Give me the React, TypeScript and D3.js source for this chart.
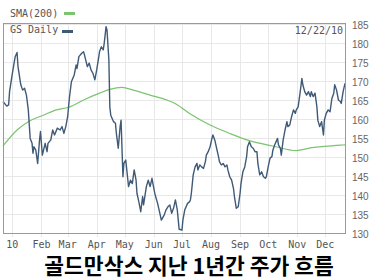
import React from "react";
import * as d3 from "d3";

const priceDates = [
  "2009-12-22","2009-12-26","2009-12-28","2009-12-29",
  "2010-01-01","2010-01-04","2010-01-06","2010-01-07","2010-01-10","2010-01-12","2010-01-14","2010-01-16","2010-01-18","2010-01-20","2010-01-22","2010-01-23","2010-01-24","2010-01-26","2010-01-28","2010-01-30","2010-01-31",
  "2010-02-02","2010-02-05","2010-02-07","2010-02-08","2010-02-11","2010-02-13","2010-02-15","2010-02-18","2010-02-21","2010-02-23","2010-02-25","2010-02-27",
  "2010-03-01","2010-03-03","2010-03-05","2010-03-08","2010-03-10","2010-03-11","2010-03-13","2010-03-16","2010-03-18","2010-03-19","2010-03-22","2010-03-24","2010-03-26","2010-03-28","2010-03-30",
  "2010-04-01","2010-04-03","2010-04-04","2010-04-06","2010-04-08","2010-04-09","2010-04-11","2010-04-12","2010-04-14","2010-04-15","2010-04-16","2010-04-19","2010-04-21","2010-04-22","2010-04-24","2010-04-26","2010-04-27","2010-04-29","2010-04-30",
  "2010-05-02","2010-05-05","2010-05-07","2010-05-09","2010-05-11","2010-05-13","2010-05-14","2010-05-16","2010-05-18","2010-05-20","2010-05-21","2010-05-24","2010-05-26","2010-05-28","2010-05-30","2010-05-31",
  "2010-06-02","2010-06-05","2010-06-07","2010-06-09","2010-06-12","2010-06-14","2010-06-16","2010-06-18","2010-06-20","2010-06-22","2010-06-24","2010-06-26","2010-06-28",
  "2010-07-01","2010-07-02","2010-07-04","2010-07-07","2010-07-09","2010-07-10","2010-07-11","2010-07-13","2010-07-15","2010-07-17","2010-07-18","2010-07-20","2010-07-22","2010-07-24","2010-07-26","2010-07-27","2010-07-29","2010-07-31",
  "2010-08-02","2010-08-03","2010-08-05","2010-08-07","2010-08-09","2010-08-10","2010-08-12","2010-08-14","2010-08-16","2010-08-18","2010-08-19","2010-08-21","2010-08-23","2010-08-25","2010-08-26","2010-08-28","2010-08-30",
  "2010-09-01","2010-09-02","2010-09-04","2010-09-06","2010-09-08","2010-09-09","2010-09-11","2010-09-13","2010-09-15","2010-09-17","2010-09-19","2010-09-20","2010-09-22","2010-09-24","2010-09-26","2010-09-28","2010-09-29",
  "2010-10-01","2010-10-03","2010-10-05","2010-10-06","2010-10-08","2010-10-11","2010-10-12","2010-10-14","2010-10-15","2010-10-17","2010-10-19","2010-10-21","2010-10-22","2010-10-24","2010-10-26","2010-10-28","2010-10-30","2010-10-31",
  "2010-11-02","2010-11-04","2010-11-06","2010-11-07","2010-11-09","2010-11-11","2010-11-13","2010-11-15","2010-11-16","2010-11-18","2010-11-20","2010-11-22","2010-11-23","2010-11-25","2010-11-27","2010-11-29","2010-11-30",
  "2010-12-02","2010-12-04","2010-12-06","2010-12-08","2010-12-10","2010-12-11","2010-12-13","2010-12-15","2010-12-17","2010-12-18","2010-12-20","2010-12-22",
];

const priceValues = [
  164.6,163.4,163.7,167.2,
  172,176.4,177.5,173.8,169,167.6,168.1,166.3,162.4,154.9,153.6,151,152.7,151.8,148.3,154.5,156.7,
  150.5,153.6,151.4,153.6,154.5,157.1,155.8,157.6,157.1,158,156.2,158,
  160.6,165.9,169.8,171.6,174.2,173.3,176.4,177.3,177.7,176.8,173.8,174.7,172.9,172,170.3,
  172.9,176,177.7,179,178.2,179.9,184.3,183.4,175.5,163.2,161,159.3,158.9,156.2,152.3,158,159.7,144.8,148.3,
  149.2,142.2,143.9,143,146.6,143.9,140.4,138.2,135.6,139.6,137.4,142.2,143.9,142.2,144.4,143,
  140.4,137.8,135.6,133.4,134.7,136.1,136.9,137.4,135.2,136.5,138.7,136.1,131,
  130.8,133.4,136.1,137.8,138.2,138.7,140.4,145.3,147.4,148.3,146.6,147.9,147.4,147,148.8,150.5,151.4,152.7,
  154.9,155.8,154.5,152.3,150.1,148.8,147.9,148.3,147.4,147.9,146.6,144.8,143.9,141.7,139.6,136.5,136.9,
  140.4,143,146.1,147.4,150.1,152.7,154,152.7,152.3,151.4,151.4,148.3,145.3,146.1,144.8,144.4,144.8,
  147.4,149.7,150.1,151.8,153.2,154.9,153.2,152.3,150.5,154.5,157.1,159.3,158,158.4,160.6,162.4,161.5,162.4,
  163.2,166.8,170.7,169,167.2,166.3,167.2,165.9,167.2,165.9,166.8,163.2,159.7,158,159.3,155.8,159.7,
  161.5,162.4,161.9,165.4,166.8,169,167.6,165,164.6,164.1,167.2,169.4,
];

const smaDates = [
  "2009-12-22","2010-01-06","2010-01-18","2010-02-03","2010-02-17","2010-03-02","2010-03-18","2010-04-04",
  "2010-04-15","2010-04-28","2010-05-10","2010-05-28","2010-06-15","2010-06-25","2010-07-10","2010-07-31",
  "2010-08-21","2010-09-11","2010-10-06","2010-10-31","2010-11-15","2010-12-17","2010-12-22",
];
const smaValues = [
  152.9,157.1,159.3,161,162.4,163.1,165,166.8,
  167.8,168.3,167.6,166.3,165,163.9,161.3,158.4,
  156.2,154.3,152.9,151.7,152.4,153.1,153.2,
];

const yTicks = [130, 135, 140, 145, 150, 155, 160, 165, 170, 175, 180, 185];
const monthTicks = [
  "2010-01-01","2010-02-01","2010-03-01","2010-04-01","2010-05-01","2010-06-01",
  "2010-07-01","2010-08-01","2010-09-01","2010-10-01","2010-11-01","2010-12-01",
];
const monthLabels = ["10","Feb","Mar","Apr","May","Jun","Jul","Aug","Sep","Oct","Nov","Dec"];

const legendSma = "SMA(200)";
const legendPrice = "GS Daily";
const dateStamp = "12/22/10";
const title = "골드만삭스 지난 1년간 주가 흐름";

const parse = d3.timeParse("%Y-%m-%d");

export default function App() {
  const W = 375, H = 280;
  const left = 3, right = 345, top = 24, bottom = 233;
  const x = d3.scaleTime()
    .domain([parse("2009-12-22") as Date, parse("2010-12-22") as Date])
    .range([left, right]);
  const y = d3.scaleLinear().domain([130, 185]).range([bottom, top]);

  const price = priceDates.map((d, i) => ({ d: parse(d) as Date, v: priceValues[i] }));
  const sma = smaDates.map((d, i) => ({ d: parse(d) as Date, v: smaValues[i] }));

  const line = d3.line<{ d: Date; v: number }>().x((p) => x(p.d)).y((p) => y(p.v));
  const smooth = d3.line<{ d: Date; v: number }>()
    .x((p) => x(p.d)).y((p) => y(p.v)).curve(d3.curveMonotoneX);

  const mono = "'DejaVu Sans Mono', monospace";

  return (
    <svg width={W} height={H} style={{ position: "absolute", left: 0, top: 0, background: "#fff" }}>
      <rect x={0} y={0} width={W} height={H} fill="#fff" />
      {yTicks.map((t) => (
        <line key={"h" + t} x1={left} x2={right} y1={Math.round(y(t)) + 0.5} y2={Math.round(y(t)) + 0.5}
          stroke="#e8e8e8" strokeWidth={1} />
      ))}
      {monthTicks.map((m) => {
        const xx = Math.round(x(parse(m) as Date)) + 0.5;
        return <line key={"v" + m} x1={xx} x2={xx} y1={top} y2={bottom + 4} stroke="#e8e8e8" strokeWidth={1} />;
      })}
      <path d={smooth(sma) || ""} fill="none" stroke="#7bc46f" strokeWidth={1.2} />
      <path d={line(price) || ""} fill="none" stroke="#3f5a77" strokeWidth={1.4} strokeLinejoin="round" />
      <rect x={left + 0.5} y={top - 0.5} width={right - left} height={bottom - top + 1}
        fill="none" stroke="#9a9a9a" strokeWidth={1} />
      {yTicks.map((t) => (
        <text key={"yl" + t} x={352} y={y(t) + 4.5} fontSize={10}
          fontFamily="'Liberation Sans', Arial, sans-serif" fill="#666">{t}</text>
      ))}
      {monthTicks.map((m, i) => (
        <text key={"ml" + m} x={x(parse(m) as Date)} y={248} fontSize={10} fontFamily={mono}
          fill="#555" textAnchor="middle">{monthLabels[i]}</text>
      ))}
      <text x={10} y={17} fontSize={10} fontFamily={mono} fill="#555">{legendSma}</text>
      <rect x={64} y={12} width={11} height={3} fill="#7bc46f" />
      <text x={10} y={33} fontSize={10} fontFamily={mono} fill="#555">{legendPrice}</text>
      <rect x={62} y={30} width={11} height={3} fill="#3f5a77" />
      <text x={343} y={34} fontSize={10} fontFamily={mono} fill="#555" textAnchor="end">{dateStamp}</text>
      <text x={189} y={274} fontSize={21.5} fontWeight="bold" fontFamily="'Noto Sans CJK KR', sans-serif"
        fill="#000" textAnchor="middle">{title}</text>
    </svg>
  );
}
